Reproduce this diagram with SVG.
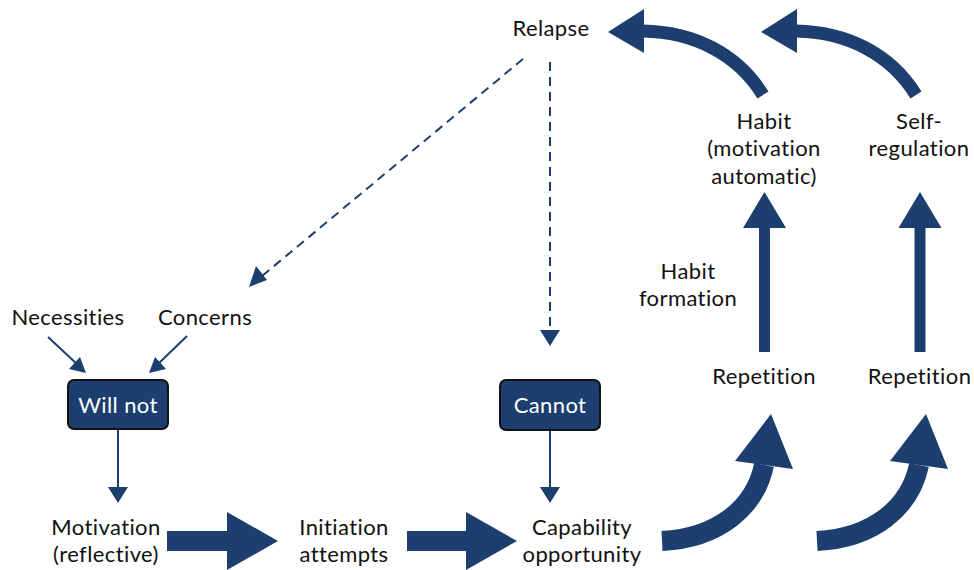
<svg xmlns="http://www.w3.org/2000/svg" width="974" height="570" viewBox="0 0 974 570">
<defs>
<style>
.t{font-family:Lato,"Open Sans","Liberation Sans",sans-serif;font-size:22px;letter-spacing:0.4px;font-variant-ligatures:none;fill:#111;text-anchor:middle}
.w{fill:#fff}
.box{fill:#1c3f70;stroke:#111;stroke-width:2}
.thin{stroke:#1c3f70;stroke-width:2;fill:none}
.dash{stroke:#1c3f70;stroke-width:2;fill:none;stroke-dasharray:9 6}
.shaft{stroke:#1c3f70;fill:none}
.fill{fill:#1c3f70}
</style>
</defs>
<rect width="974" height="570" fill="#fff"/>

<g id="connectors">
<line class="dash" x1="523" y1="59" x2="262" y2="276"/>
<polygon class="fill" points="249,287 256,266 267,280"/>
<line class="dash" x1="550" y1="62" x2="550" y2="330"/>
<polygon class="fill" points="540,330 560,330 550,346"/>
<line class="thin" x1="48" y1="337" x2="78" y2="365"/>
<polygon class="fill" points="86,373 69,369 80,357"/>
<line class="thin" x1="187" y1="336" x2="157" y2="365"/>
<polygon class="fill" points="149,373 155,357 166,369"/>
<line class="thin" x1="118" y1="429" x2="118" y2="488"/>
<polygon class="fill" points="108,487 128,487 118,503"/>
<line class="thin" x1="550" y1="430" x2="550" y2="488"/>
<polygon class="fill" points="540,487 560,487 550,503"/>
<polygon class="fill" points="167,531 227,531 227,512 278,541 227,570 227,551 167,551"/>
<polygon class="fill" points="407,531 466,531 466,512 517,541 466,570 466,551 407,551"/>
<path class="shaft" stroke-width="20" d="M662,541 C718,538 755,508 764,465"/>
<polygon class="fill" points="735,461 771,414 793,469"/>
<path class="shaft" stroke-width="20" d="M817,541 C873,538 910,508 919,465"/>
<polygon class="fill" points="890,461 926,414 948,469"/>
<line class="shaft" stroke-width="11" x1="764.5" y1="352" x2="764.5" y2="227"/>
<polygon class="fill" points="743,228 764.5,192 786,228"/>
<line class="shaft" stroke-width="11" x1="920" y1="352" x2="920" y2="227"/>
<polygon class="fill" points="898.5,228 920,192 941.5,228"/>
<path class="shaft" stroke-width="13" d="M763,95 C737,53 693,32 643,31"/>
<polygon class="fill" points="644,9 608,32 644,53"/>
<path class="shaft" stroke-width="13" d="M916,95 C890,53 846,32 796,31"/>
<polygon class="fill" points="797,9 761,32 797,53"/>
</g>

<g id="relapse"><text class="t" x="551" y="36">Relapse</text></g>
<g id="necessities"><text class="t" x="68" y="325">Necessities</text></g>
<g id="concerns"><text class="t" x="205" y="325">Concerns</text></g>
<g id="willnot"><rect class="box" x="68" y="380" width="100" height="49" rx="6"/><text class="t w" x="118" y="413">Will not</text></g>
<g id="cannot"><rect class="box" x="500" y="380" width="100" height="50" rx="6"/><text class="t w" x="550" y="413">Cannot</text></g>
<g id="motivation"><text class="t" x="106" y="535">Motivation</text><text class="t" x="106" y="562">(reflective)</text></g>
<g id="initiation"><text class="t" x="344" y="535">Initiation</text><text class="t" x="344" y="562">attempts</text></g>
<g id="capability"><text class="t" x="582" y="535">Capability</text><text class="t" x="582" y="562">opportunity</text></g>
<g id="repetition1"><text class="t" x="764" y="384">Repetition</text></g>
<g id="repetition2"><text class="t" x="919.5" y="384">Repetition</text></g>
<g id="habitformation"><text class="t" x="688" y="279">Habit</text><text class="t" x="688" y="306">formation</text></g>
<g id="habit"><text class="t" x="764" y="129">Habit</text><text class="t" x="764" y="156">(motivation</text><text class="t" x="764" y="184">automatic)</text></g>
<g id="selfreg"><text class="t" x="919" y="129">Self-</text><text class="t" x="919" y="156">regulation</text></g>
</svg>
